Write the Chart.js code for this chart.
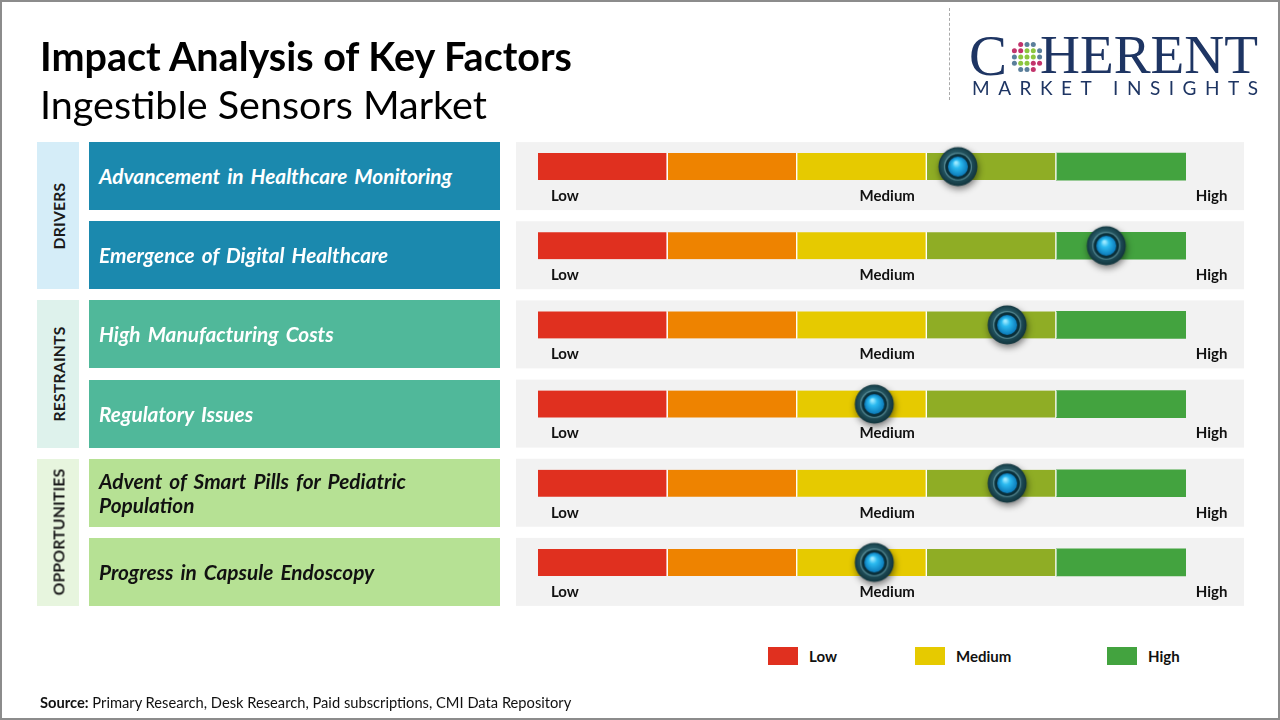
<!DOCTYPE html>
<html><head><meta charset="utf-8">
<script src="https://cdn.jsdelivr.net/npm/chart.js@4"></script>
<style>
html,body{margin:0;padding:0;width:1280px;height:720px;overflow:hidden;background:#fff;font-family:Lato,'Open Sans',sans-serif;}
#frame{position:absolute;left:0;top:0;width:1276px;height:716px;border:2px solid #8c8c8c;pointer-events:none;z-index:20}
#chart{position:absolute;left:0;top:0;z-index:1}
.abs{position:absolute;white-space:nowrap;z-index:5}
#title{left:40px;font-weight:700;color:#000;line-height:1}
#subtitle{left:40px;font-weight:400;color:#000;line-height:1}
#dash{position:absolute;left:949px;top:8px;height:92px;border-left:1px dashed #aaa;z-index:5}
.factor{position:absolute;left:89px;width:391px;padding:0 10px;display:flex;align-items:center;font-weight:700;font-style:italic;z-index:5;line-height:24px;word-spacing:0.12em}
.group{position:absolute;left:37px;width:42px;z-index:5}
.group span{position:absolute;left:50%;top:50%;transform:translate(-50%,-50%) rotate(-90deg);font-weight:700;color:#1a1a1a;white-space:nowrap;letter-spacing:0.2px}
#legend .sw{position:absolute;top:647px;width:30px;height:18px}
#legend .lt{position:absolute;top:647px;line-height:18px;font-weight:700;font-size:15px;color:#111}
#source{left:40px;top:693px;font-size:14px;color:#111;line-height:18px}
#logoC,#logoH{position:absolute;font-family:'Liberation Serif','DejaVu Serif',serif;color:#1e3563;line-height:1;z-index:5}
#logoSub{position:absolute;left:972px;top:78px;font-family:Lato,sans-serif;color:#1e3563;font-size:19px;line-height:20px;z-index:5;white-space:nowrap}
</style></head>
<body>
<canvas id="chart" width="1280" height="720"></canvas>
<div id="frame"></div>
<div id="title" class="abs">Impact Analysis of Key Factors</div>
<div id="subtitle" class="abs">Ingestible Sensors Market</div>
<div id="dash"></div>
<div id="logoC">C</div>
<svg id="globe" width="34" height="34" style="position:absolute;left:1010px;top:40px;z-index:5"></svg>
<div id="logoH">HERENT</div>
<div id="logoSub">MARKET INSIGHTS</div>
<div id="boxes"></div>
<div id="legend"></div>
<div id="source" class="abs"><b>Source:</b> Primary Research, Desk Research, Paid subscriptions, CMI Data Repository</div>
<script>
// ---------- data ----------
const factors = ["Advancement in Healthcare Monitoring","Emergence of Digital Healthcare","High Manufacturing Costs","Regulatory Issues","Advent of Smart Pills for Pediatric Population","Progress in Capsule Endoscopy"];
const groups = ["DRIVERS","RESTRAINTS","OPPORTUNITIES"];
const groupOfFactor = [0,0,1,1,2,2];
const impactScores = [64.8, 87.7, 72.4, 51.9, 72.4, 51.9];
const segmentNames = ["Low","Low-Medium","Medium","Medium-High","High"];
const segmentWidths = [20,20,20,20,20];
const scaleLabels = ["Low","Medium","High"];
const scaleLabelValues = [2, 53.9, 101.5];
const legendLabels = ["Low","Medium","High"];

// ---------- styles ----------
const segmentColors = ["#e0301f","#ee8300","#e6ca00","#8fad25","#43a33f"];
const legendColors = ["#e0301f","#e6ca00","#43a33f"];
const legendX = [768,915,1107];
const groupBg = ["#d5edf8","#def2ec","#e7f5de"];
const factorBg = ["#1b89ae","#50b89a","#b6e194"];
const factorFg = ["#ffffff","#ffffff","#111111"];

function fitFont(el, targetW){
  el.style.fontSize='100px';
  const w=el.getBoundingClientRect().width;
  const s=100*targetW/w; el.style.fontSize=s+'px'; return s;
}
const tS=fitFont(document.getElementById('title'),532);
document.getElementById('title').style.top=(71-0.89*tS)+'px';
const sS=fitFont(document.getElementById('subtitle'),447);
document.getElementById('subtitle').style.top=(119-0.89*sS)+'px';
fitFont(document.getElementById('source'),532);

// logo
const lc=document.getElementById('logoC'); lc.style.fontSize='57px'; lc.style.left='969px'; lc.style.top='27px';
const lh=document.getElementById('logoH'); lh.style.left='1040px'; lh.style.top='27px';
lh.style.fontSize='100px'; const hw=lh.getBoundingClientRect().width; lh.style.fontSize=(100*218/hw)+'px';
const ls=document.getElementById('logoSub');
{ const w0=ls.getBoundingClientRect().width; const n=ls.textContent.length; ls.style.letterSpacing=((286-w0)/(n-1))+'px'; }
{ const svg=document.getElementById('globe'); let h='';
  for(let i=-2;i<=2;i++)for(let j=-2;j<=2;j++){ if(Math.abs(i)+Math.abs(j)>3) continue;
    let col='#5b7f9b'; if(Math.abs(i)<=1&&Math.abs(j)<=1) col='#8cc63f';
    if((i<=-1&&j<=-1)||(i>=1&&j>=1)) col='#c2336b'; if(i===0&&j===0) col='#8cc63f';
    h+=`<circle cx="${17+i*6.3}" cy="${17+j*6.3}" r="2.5" fill="${col}"/>`; }
  svg.innerHTML=h; }

// marker image
function makeMarker(){
  const c=document.createElement('canvas'); c.width=c.height=60;
  const g=c.getContext('2d'); const cx=30, cy=30;
  g.save(); g.shadowColor='rgba(0,0,0,0.5)'; g.shadowBlur=7; g.shadowOffsetX=1; g.shadowOffsetY=3;
  let gr=g.createRadialGradient(cx-4,cy-6,3,cx,cy,20);
  gr.addColorStop(0,'#3c7682'); gr.addColorStop(0.75,'#1d4a55'); gr.addColorStop(1,'#10323a');
  g.fillStyle=gr; g.beginPath(); g.arc(cx,cy,19.5,0,Math.PI*2); g.fill(); g.restore();
  g.strokeStyle='rgba(140,190,200,0.45)'; g.lineWidth=1.2; g.beginPath(); g.arc(cx,cy,13.5,0,Math.PI*2); g.stroke();
  g.fillStyle='#0a2f3a'; g.beginPath(); g.arc(cx,cy,12.5,0,Math.PI*2); g.fill();
  gr=g.createRadialGradient(cx-2,cy-4,1,cx,cy,10);
  gr.addColorStop(0,'#9be9ff'); gr.addColorStop(0.35,'#2bbaf0'); gr.addColorStop(1,'#0b79b8');
  g.fillStyle=gr; g.beginPath(); g.arc(cx,cy,10,0,Math.PI*2); g.fill();
  return c;
}
const markerImg=makeMarker();

const panelPlugin={id:'panels',
  beforeDatasetsDraw(chart){
    const {ctx,chartArea:a,scales:{x,y}}=chart;
    ctx.save();
    factors.forEach((f,i)=>{
      const yc=y.getPixelForValue(i);
      ctx.fillStyle='#f2f2f2'; ctx.fillRect(a.left-22,yc-24.5,a.right-a.left+80,68);
      ctx.fillStyle='#111'; ctx.font='700 15px Lato, sans-serif'; ctx.textBaseline='middle';
      scaleLabels.forEach((t,k)=>{
        const px=x.getPixelForValue(scaleLabelValues[k]);
        ctx.textAlign = k===0?'left':(k===1?'center':'left');
        ctx.fillText(t,px,yc+29.5);
      });
    });
    ctx.restore();
  }};

const datasets=segmentNames.map((n,k)=>({
  type:'bar', label:n, data:factors.map(()=>segmentWidths[k]),
  backgroundColor:segmentColors[k], borderColor:'#ffffff',
  borderWidth:{left:0,top:0,bottom:0,right:k<4?1.5:0}, borderSkipped:false,
  barThickness:27, stack:'gauge', order:1
}));
datasets.push({type:'scatter', label:'Impact', data:impactScores.map((v,i)=>({x:v,y:i})),
  pointStyle:markerImg, pointRadius:20, stack:'marker', order:0});

const chart=new Chart(document.getElementById('chart'),{
  type:'bar',
  data:{labels:factors,datasets},
  options:{indexAxis:'y',responsive:false,animation:false,events:[],
    layout:{padding:{left:538,right:94,top:127,bottom:118}},
    plugins:{legend:{display:false},tooltip:{enabled:false}},
    scales:{
      x:{type:'linear',min:0,max:100,stacked:true,display:false},
      y:{type:'category',stacked:true,display:false,offset:true}
    }},
  plugins:[panelPlugin]
});

// left boxes from the chart's y scale
const yS=chart.scales.y; const boxes=document.getElementById('boxes');
let fSize=null;
factors.forEach((f,i)=>{
  const yc=yS.getPixelForValue(i); const g=groupOfFactor[i];
  const d=document.createElement('div'); d.className='factor';
  d.style.top=(yc-24.5)+'px'; d.style.height='68px';
  d.style.background=factorBg[g]; d.style.color=factorFg[g];
  const sp=document.createElement('span'); sp.textContent=f; d.appendChild(sp);
  boxes.appendChild(d);
  if(fSize===null){ sp.style.whiteSpace='nowrap'; sp.style.fontSize='100px'; const w=sp.getBoundingClientRect().width; fSize=100*347/w; sp.style.whiteSpace='';}
  d.style.fontSize=fSize+'px'; sp.style.fontSize='';
});
groups.forEach((gname,g)=>{
  const idx=groupOfFactor.map((v,i)=>v===g?i:-1).filter(v=>v>=0);
  const top=yS.getPixelForValue(idx[0])-24.5, bot=yS.getPixelForValue(idx[idx.length-1])+43.5;
  const d=document.createElement('div'); d.className='group';
  d.style.top=top+'px'; d.style.height=(bot-top)+'px'; d.style.background=groupBg[g];
  const sp=document.createElement('span'); sp.textContent=gname; sp.style.fontSize='16px'; d.appendChild(sp);
  boxes.appendChild(d);
});
{ const sp=boxes.querySelectorAll('.group span')[2]; const w=sp.getBoundingClientRect().height; const s=16*127/w;
  boxes.querySelectorAll('.group span').forEach(e=>e.style.fontSize=s+'px'); }

const lg=document.getElementById('legend');
legendLabels.forEach((t,k)=>{
  lg.insertAdjacentHTML('beforeend',`<div class="sw" style="left:${legendX[k]}px;background:${legendColors[k]}"></div><div class="lt" style="left:${legendX[k]+41}px">${t}</div>`);
});
</script>
</body></html>
